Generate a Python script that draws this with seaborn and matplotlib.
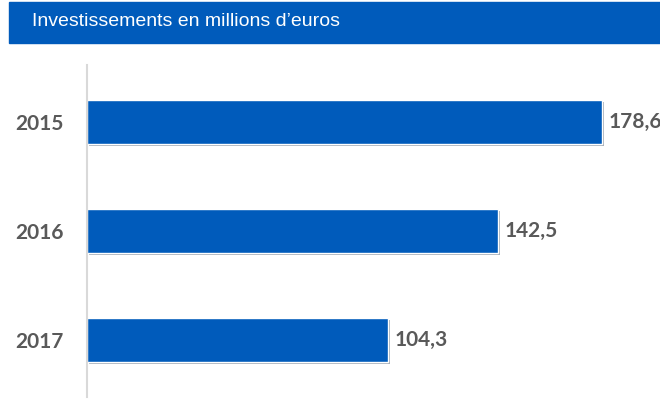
import matplotlib
matplotlib.use("Agg")
import matplotlib.pyplot as plt
import matplotlib.patheffects as pe
from matplotlib.patches import Rectangle
import pandas as pd
import seaborn as sns

# données
annees = ["2015", "2016", "2017"]
investissements = [178.6, 142.5, 104.3]
etiquettes = ["178,6", "142,5", "104,3"]
titre = "Investissements en millions d\u2019euros"

bleu = "#005BBB"
gris = "#595959"

sns.set_theme(style="white")
plt.rcParams["font.family"] = ["Lato", "DejaVu Sans"]

df = pd.DataFrame({"annee": annees, "valeur": investissements})

fig = plt.figure(figsize=(6.6, 4.11), dpi=100)
ax = fig.add_axes([87 / 660, 1 - 397 / 411, 1 - 87 / 660, (397 - 65) / 411])

sns.barplot(data=df, x="valeur", y="annee", color=bleu, saturation=1,
            width=0.40, ax=ax)
for p in ax.patches:
    p.set_path_effects([pe.SimplePatchShadow(offset=(1.5, -1.5), alpha=0.35),
                        pe.Normal()])

# étiquettes de valeur (la dernière déborde du cadre comme sur l'original)
for i, (v, lab) in enumerate(zip(investissements, etiquettes)):
    ax.annotate(lab, (v, i), xytext=(4.5, 0), textcoords="offset points",
                va="center", ha="left", fontsize=15, fontweight="bold",
                color=gris, annotation_clip=False)

ax.set_xlim(0, 198.6)
ax.set_ylim(2.52, -0.52)
ax.set_xlabel("")
ax.set_ylabel("")
ax.set_xticks([])
ax.tick_params(axis="y", length=0, pad=17)
for t in ax.get_yticklabels():
    t.set_fontsize(15)
    t.set_fontweight("bold")
    t.set_color(gris)
for s in ["top", "right", "bottom"]:
    ax.spines[s].set_visible(False)
ax.spines["left"].set_color("#d9d9d9")
ax.spines["left"].set_linewidth(1.5)

# bandeau du titre
fig.patches.append(Rectangle((9 / 660, 1 - 43 / 411), 1 - 9 / 660, 41 / 411,
                             transform=fig.transFigure, color=bleu, zorder=0))
fig.text(32 / 660, 1 - 22 / 411, titre, color="white", fontsize=14,
         va="center", ha="left",
         family=["Liberation Sans Narrow", "Liberation Sans", "DejaVu Sans"])

fig.savefig("out.png", dpi=100)
